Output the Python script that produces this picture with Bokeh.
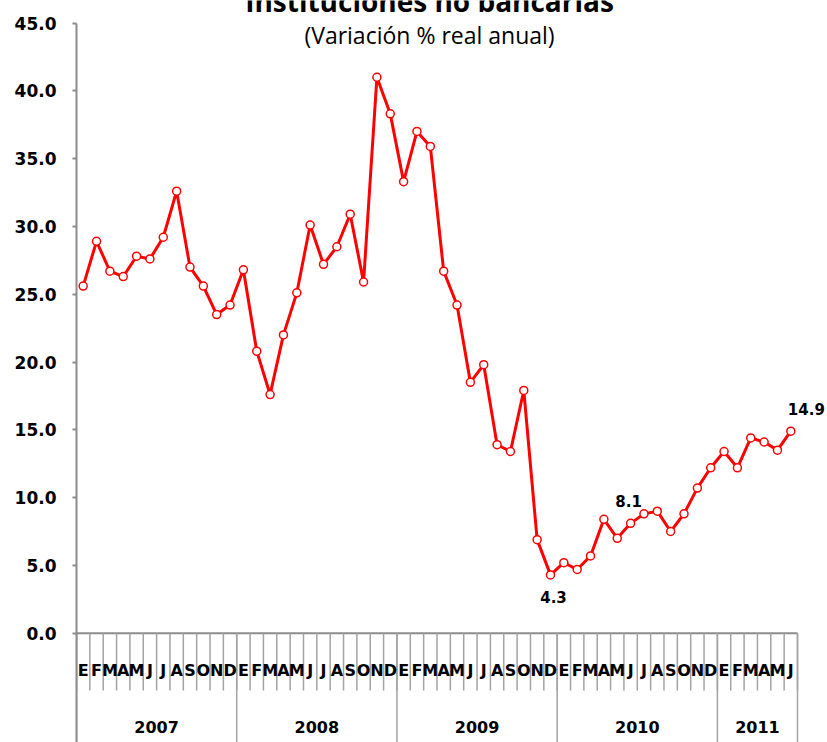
import numpy as np
from bokeh.plotting import figure
from bokeh.models import Range1d, FixedTicker, PrintfTickFormatter, Label
from bokeh.core.properties import value
from bokeh.embed import file_html
from bokeh.resources import INLINE

# ---------------- data ----------------
title_text = "Instituciones no bancarias"
subtitle_text = "(Variación % real anual)"
years = ["2007", "2008", "2009", "2010", "2011"]
months_per_year = [12, 12, 12, 12, 6]
month_initials = ["E", "F", "M", "A", "M", "J", "J", "A", "S", "O", "N", "D"]
values = [25.6, 28.9, 26.7, 26.3, 27.8, 27.6, 29.2, 32.6, 27.0, 25.6, 23.5, 24.2,
          26.8, 20.8, 17.6, 22.0, 25.1, 30.1, 27.2, 28.5, 30.9, 25.9, 41.0, 38.3,
          33.3, 37.0, 35.9, 26.7, 24.2, 18.5, 19.8, 13.9, 13.4, 17.9, 6.9, 4.3,
          5.2, 4.7, 5.7, 8.4, 7.0, 8.1, 8.8, 9.0, 7.5, 8.8, 10.7, 12.2,
          13.4, 12.2, 14.4, 14.1, 13.5, 14.9]
labelled_points = [35, 41, 53]
y_ticks = [0, 5, 10, 15, 20, 25, 30, 35, 40, 45]
y_max = 45

# ---------------- layout (pixels) ----------------
W, H = 827, 742
FRAME_LEFT = 76          # y axis position
ZERO_PX = 632.7          # pixel row of value 0
TOP_PX = 22.5            # pixel row of value 45
PLOT_RIGHT_PX = 797      # right end of the category axis
PXU = (ZERO_PX - TOP_PX) / y_max

n = len(values)
month_labels = [m for cnt in months_per_year for m in month_initials[:cnt]]
xs = list(np.arange(n) + 0.5)
month_bounds = list(range(n + 1))
year_bounds = [0] + [int(v) for v in np.cumsum(months_per_year)]
year_centers = [(year_bounds[i] + year_bounds[i + 1]) / 2 for i in range(len(years))]

XPU = (PLOT_RIGHT_PX - FRAME_LEFT) / n
x_end = n + (W - PLOT_RIGHT_PX) / XPU
y_top = y_max + TOP_PX / PXU
y_bot = -(H - ZERO_PX) / PXU


def px_to_y(py):
    return (ZERO_PX - py) / PXU


p = figure(width=W, height=H, x_range=Range1d(0, x_end), y_range=Range1d(y_bot, y_top),
           output_backend="svg", toolbar_location=None, x_axis_type=None,
           min_border_left=FRAME_LEFT, min_border_right=0,
           min_border_top=0, min_border_bottom=0)
p.title.visible = False
p.outline_line_color = None
p.ygrid.visible = False
p.background_fill_color = "white"
p.border_fill_color = "white"

AX = "#8c8c8c"
TK = "#a3a3a3"
LBL_FONT = "DejaVu Sans"

# y axis
ya = p.yaxis[0]
ya.ticker = FixedTicker(ticks=y_ticks)
ya.bounds = (y_bot, y_max)
ya.formatter = PrintfTickFormatter(format="%.1f")
ya.axis_line_color = AX
ya.axis_line_width = 2
ya.major_tick_line_color = AX
ya.major_tick_line_width = 2
ya.major_tick_out = 4
ya.major_tick_in = 0
ya.minor_tick_line_color = None
ya.major_label_standoff = 16
ya.major_label_text_font = LBL_FONT
ya.major_label_text_font_style = "bold"
ya.major_label_text_font_size = "17px"
ya.major_label_text_color = "black"

# category axis (horizontal line, month & year separators, labels)
p.segment(x0=0, y0=0, x1=n, y1=0, line_color=AX, line_width=2)
p.segment(x0=month_bounds, y0=0, x1=month_bounds, y1=px_to_y(690),
          line_color=TK, line_width=1.5)
p.segment(x0=year_bounds, y0=0, x1=year_bounds, y1=y_bot,
          line_color=TK, line_width=1.5)
p.text(x=xs, y=px_to_y(670), text=month_labels, text_align="center",
       text_baseline="alphabetic", text_font=value(LBL_FONT),
       text_font_style="bold", text_font_size="16px", text_color="black")
p.text(x=year_centers, y=px_to_y(726), text=years, text_align="center",
       text_baseline="alphabetic", text_font=value(LBL_FONT),
       text_font_style="bold", text_font_size="16px", text_color="black")

# series
p.line(xs, values, line_color="#ff0000", line_width=3)
p.scatter(xs, values, size=8, marker="circle", fill_color="white",
          line_color="#ff0000", line_width=1.5)

# data labels
label_style = {35: ("center", 3, -22), 41: ("center", -2, 22), 53: ("left", -3, 22)}
for idx in labelled_points:
    align, dx, dy = label_style[idx]
    p.add_layout(Label(x=xs[idx], y=values[idx], text=f"{values[idx]:.1f}",
                       x_offset=dx, y_offset=dy, text_align=align,
                       text_baseline="alphabetic", text_font=LBL_FONT,
                       text_font_style="bold", text_font_size="15px",
                       text_color="black"))

# titles (the reference shows the title cropped at the top edge)
cx = (429 - FRAME_LEFT) / XPU
p.add_layout(Label(x=cx, y=px_to_y(0), text=title_text, text_align="center",
                   text_baseline="alphabetic", text_font="Open Sans",
                   text_font_style="bold", text_font_size="28px", text_color="black"))
p.add_layout(Label(x=cx, y=px_to_y(34), text=subtitle_text, text_align="center",
                   text_baseline="alphabetic", text_font="Open Sans",
                   text_font_size="23px", text_color="black"))

open("out.html", "w").write(file_html(p, INLINE))
